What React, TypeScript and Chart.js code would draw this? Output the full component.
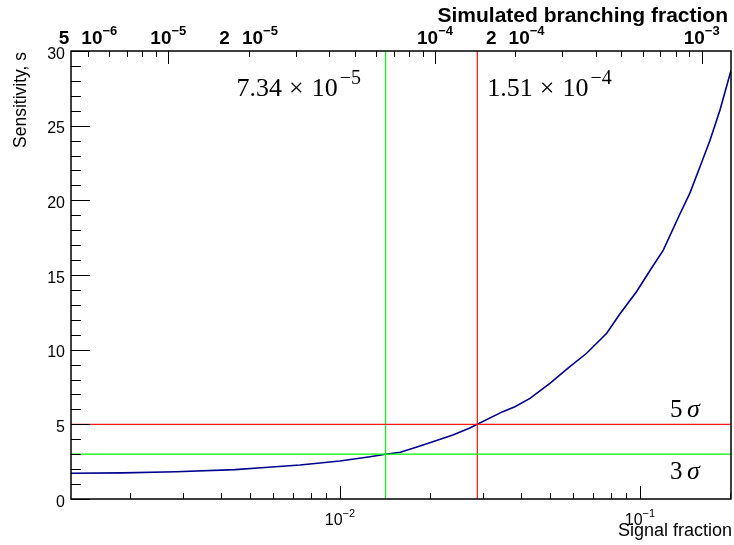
import React, { useEffect, useRef } from "react";
import { Chart, registerables } from "chart.js";
Chart.register(...registerables);

// ---- data ----
const signalFraction = [
  0.00127, 0.00189, 0.00284, 0.00447, 0.00533, 0.00736, 0.01, 0.0126, 0.0142,
  0.0159, 0.0185, 0.0238, 0.0271, 0.0287, 0.0349, 0.0383, 0.043, 0.0501,
  0.0584, 0.0664, 0.0775, 0.0858, 0.0975, 0.108, 0.1196, 0.136, 0.1468,
  0.1585, 0.1711, 0.1848, 0.2011,
];
const sensitivity = [
  1.72, 1.75, 1.82, 1.97, 2.08, 2.28, 2.54, 2.83, 3.0, 3.13, 3.55, 4.29, 4.75,
  5.0, 5.85, 6.18, 6.74, 7.75, 8.86, 9.76, 11.1, 12.4, 13.9, 15.3, 16.67, 19.1,
  20.5, 22.25, 24.0, 26.05, 28.7,
];

const xMin = 0.00127;
const xMax = 0.2011;
const yMin = 0;
const yMax = 30;
const topMin = 4.315e-6;
const topMax = 1.288e-3;

const sigma3 = 3;
const sigma5 = 5;
const sf3sigma = 0.0142;
const sf5sigma = 0.0287;
const bf3label = ["7.34", "−5"];
const bf5label = ["1.51", "−4"];

const yMajorTicks = [0, 5, 10, 15, 20, 25, 30];
const yMinorTicks = [
  1, 2, 3, 4, 6, 7, 8, 9, 11, 12, 13, 14, 16, 17, 18, 19, 21, 22, 23, 24, 26,
  27, 28, 29,
];
const xMajorTicks = [0.01, 0.1];
const xMajorExp = ["−2", "−1"];
const xMinorTicks = [
  0.002, 0.003, 0.004, 0.005, 0.006, 0.007, 0.008, 0.009, 0.02, 0.03, 0.04,
  0.05, 0.06, 0.07, 0.08, 0.09, 0.2,
];
const topMajorTicks = [1e-5, 1e-4, 1e-3];
const topMinorTicks = [
  5e-6, 6e-6, 7e-6, 8e-6, 9e-6, 2e-5, 3e-5, 4e-5, 5e-5, 6e-5, 7e-5, 8e-5, 9e-5,
  2e-4, 3e-4, 4e-4, 5e-4, 6e-4, 7e-4, 8e-4, 9e-4,
];
const topLabelValues = [5e-6, 1e-5, 2e-5, 1e-4, 2e-4, 1e-3];
const topLabelPrefix = ["5", "", "2", "", "2", ""];
const topLabelExp = ["−6", "−5", "−5", "−4", "−4", "−3"];

const SANS = '"Liberation Sans", Arial, Helvetica, sans-serif';
const SERIF = '"Liberation Serif", "Times New Roman", serif';

function drawPow(
  ctx: CanvasRenderingContext2D,
  prefix: string,
  expo: string,
  cx: number,
  baseline: number,
  size: number,
  expSize: number,
  raise: number,
  weight: string,
  gap: number
) {
  ctx.font = `${weight} ${size}px ${SANS}`;
  const wPre = prefix ? ctx.measureText(prefix).width + gap : 0;
  const w10 = ctx.measureText("10").width;
  ctx.font = `${weight} ${expSize}px ${SANS}`;
  const wExp = ctx.measureText(expo).width;
  const total = wPre + w10 + wExp;
  const x0 = cx - total / 2;
  ctx.textAlign = "left";
  ctx.textBaseline = "alphabetic";
  ctx.font = `${weight} ${size}px ${SANS}`;
  if (prefix) ctx.fillText(prefix, x0, baseline);
  ctx.fillText("10", x0 + wPre, baseline);
  ctx.font = `${weight} ${expSize}px ${SANS}`;
  ctx.fillText(expo, x0 + wPre + w10, baseline - raise);
}

function drawLatexNumber(
  ctx: CanvasRenderingContext2D,
  mant: string,
  expo: string,
  x: number,
  baseline: number
) {
  ctx.fillStyle = "#000";
  ctx.textAlign = "left";
  ctx.textBaseline = "alphabetic";
  ctx.font = `26px ${SERIF}`;
  ctx.fillText(mant, x, baseline);
  const wm = ctx.measureText(mant).width;
  ctx.fillText("×", x + wm + 7, baseline);
  const wx = ctx.measureText("×").width;
  const x10 = x + wm + 7 + wx + 8;
  ctx.fillText("10", x10, baseline);
  const w10 = ctx.measureText("10").width;
  ctx.font = `20px ${SERIF}`;
  ctx.fillText(expo, x10 + w10 + 2, baseline - 12);
}

const axesPlugin = {
  id: "rootAxes",
  afterDatasetsDraw(chart: any) {
    const ctx: CanvasRenderingContext2D = chart.ctx;
    const xs = chart.scales.x;
    const ys = chart.scales.y;
    const ts = chart.scales.xTop;
    const { left, right, top, bottom } = chart.chartArea;
    ctx.save();
    ctx.strokeStyle = "#000";
    ctx.fillStyle = "#000";
    ctx.lineWidth = 1;

    const seg = (x1: number, y1: number, x2: number, y2: number) => {
      ctx.beginPath();
      ctx.moveTo(x1, y1);
      ctx.lineTo(x2, y2);
      ctx.stroke();
    };

    // left axis ticks
    yMajorTicks.forEach((v) => {
      const y = Math.round(ys.getPixelForValue(v)) + 0.5;
      seg(left, y, left + 19, y);
    });
    yMinorTicks.forEach((v) => {
      const y = Math.round(ys.getPixelForValue(v)) + 0.5;
      seg(left, y, left + 10, y);
    });
    ctx.font = `16px ${SANS}`;
    ctx.textAlign = "right";
    ctx.textBaseline = "alphabetic";
    yMajorTicks.forEach((v) => {
      const y = ys.getPixelForValue(v);
      ctx.fillText(String(v), left - 6, y + 7.5);
    });

    // bottom axis ticks
    xMajorTicks.forEach((v) => {
      const x = Math.round(xs.getPixelForValue(v)) + 0.5;
      seg(x, bottom, x, bottom - 13);
    });
    xMinorTicks.forEach((v) => {
      const x = Math.round(xs.getPixelForValue(v)) + 0.5;
      seg(x, bottom, x, bottom - 6);
    });
    xMajorTicks.forEach((v, i) => {
      const x = xs.getPixelForValue(v);
      drawPow(ctx, "", xMajorExp[i], x, bottom + 26, 16, 11, 8, "normal", 0);
    });

    // top axis ticks
    topMajorTicks.forEach((v) => {
      const x = Math.round(ts.getPixelForValue(v)) + 0.5;
      seg(x, top, x, top + 13);
    });
    topMinorTicks.forEach((v) => {
      const x = Math.round(ts.getPixelForValue(v)) + 0.5;
      seg(x, top, x, top + 6);
    });
    topLabelValues.forEach((v, i) => {
      const x = ts.getPixelForValue(v);
      drawPow(ctx, topLabelPrefix[i], topLabelExp[i], x, top - 7, 19, 13, 9, "bold", 12);
    });

    // frame
    ctx.lineWidth = 1.5;
    ctx.strokeRect(left, top, right - left, bottom - top);

    // axis titles
    ctx.font = `bold 21px ${SANS}`;
    ctx.textAlign = "right";
    ctx.textBaseline = "alphabetic";
    ctx.fillText("Simulated branching fraction", right - 3, 22);

    ctx.font = `18px ${SANS}`;
    ctx.textAlign = "right";
    ctx.fillText("Signal fraction", right + 1, bottom + 37);

    ctx.save();
    ctx.translate(26, top + 1);
    ctx.rotate(-Math.PI / 2);
    ctx.font = `17.5px ${SANS}`;
    ctx.textAlign = "right";
    ctx.fillText("Sensitivity, s", 0, 0);
    ctx.restore();

    // annotations
    const xg = xs.getPixelForValue(sf3sigma);
    const xr = xs.getPixelForValue(sf5sigma);
    drawLatexNumber(ctx, bf3label[0], bf3label[1], xg - 149, top + 45);
    drawLatexNumber(ctx, bf5label[0], bf5label[1], xr + 10, top + 45);

    ctx.font = `25px ${SERIF}`;
    ctx.textAlign = "left";
    const y5 = ys.getPixelForValue(sigma5);
    const y3 = ys.getPixelForValue(sigma3);
    const sx = right - 61;
    ctx.fillText("5", sx, y5 - 7);
    ctx.font = `italic 26px ${SERIF}`;
    ctx.fillText("σ", sx + 17, y5 - 7);
    ctx.font = `25px ${SERIF}`;
    ctx.fillText("3", sx, y3 + 25);
    ctx.font = `italic 26px ${SERIF}`;
    ctx.fillText("σ", sx + 17, y3 + 25);

    ctx.restore();
  },
};

export default function App() {
  const ref = useRef<HTMLCanvasElement | null>(null);
  useEffect(() => {
    document.body.style.margin = "0";
    const canvas = ref.current;
    if (!canvas) return;
    const curve = signalFraction.map((x, i) => ({ x, y: sensitivity[i] }));
    const chart = new Chart(canvas, {
      type: "line",
      data: {
        datasets: [
          {
            label: "sensitivity",
            data: curve,
            borderColor: "#00008f",
            borderWidth: 1.6,
            pointRadius: 0,
            tension: 0,
            fill: false,
            order: 5,
          },
          {
            label: "5 sigma",
            data: [
              { x: xMin, y: sigma5 },
              { x: xMax, y: sigma5 },
            ],
            borderColor: "#ff1a1a",
            borderWidth: 1.3,
            pointRadius: 0,
            order: 1,
          },
          {
            label: "3 sigma",
            data: [
              { x: xMin, y: sigma3 },
              { x: xMax, y: sigma3 },
            ],
            borderColor: "#00f000",
            borderWidth: 1.3,
            pointRadius: 0,
            order: 1,
          },
          {
            label: "5 sigma fraction",
            data: [
              { x: sf5sigma, y: yMin },
              { x: sf5sigma, y: yMax },
            ],
            borderColor: "#e00000",
            borderWidth: 1.1,
            pointRadius: 0,
            order: 1,
          },
          {
            label: "3 sigma fraction",
            data: [
              { x: sf3sigma, y: yMin },
              { x: sf3sigma, y: yMax },
            ],
            borderColor: "#00ff00",
            borderWidth: 1.2,
            pointRadius: 0,
            order: 1,
          },
        ],
      },
      options: {
        responsive: false,
        animation: false,
        devicePixelRatio: 1,
        layout: { padding: { left: 71, right: 3, top: 51, bottom: 46 } },
        plugins: { legend: { display: false }, tooltip: { enabled: false } },
        events: [],
        scales: {
          x: { type: "logarithmic", min: xMin, max: xMax, display: false },
          xTop: {
            type: "logarithmic",
            position: "top",
            min: topMin,
            max: topMax,
            display: false,
          },
          y: { type: "linear", min: yMin, max: yMax, display: false },
        },
      },
      plugins: [axesPlugin],
    });
    return () => chart.destroy();
  }, []);
  return (
    <div style={{ width: 734, height: 545, background: "#fff" }}>
      <canvas ref={ref} width={734} height={545} />
    </div>
  );
}
